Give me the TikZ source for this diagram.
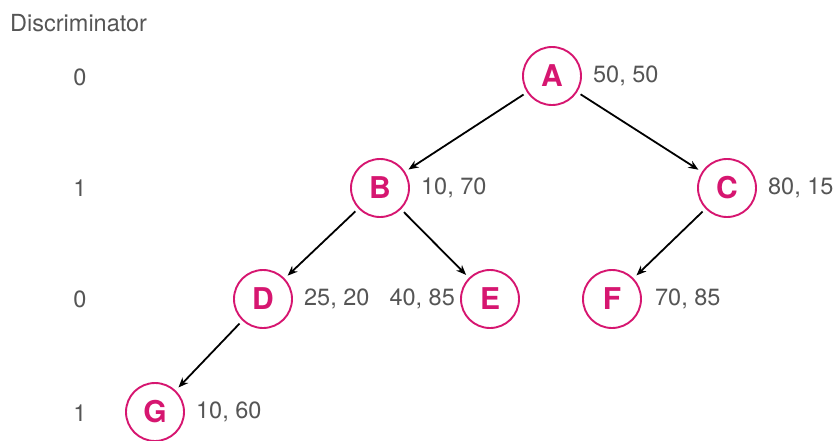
\documentclass[tikz,border=0pt]{standalone}
\usepackage{fontspec}
\setmainfont{TeX Gyre Heros}
\usetikzlibrary{arrows.meta}
\definecolor{keypink}{RGB}{214,22,112}
\definecolor{labelgray}{RGB}{85,85,85}
\tikzset{key/.style={circle, draw=keypink, line width=1.9pt, minimum size=58pt,
    inner sep=0pt, text=keypink, font=\fontsize{30}{30}\selectfont\bfseries},
  point/.style={text=labelgray, inner sep=0pt, font=\fontsize{23.5}{24}\selectfont},
  edge/.style={->, line width=1.8pt, shorten <=4pt, shorten >=4pt}}

\begin{document}
\begin{tikzpicture}[x=1pt, y=-1pt, >={Stealth[length=10pt,width=8pt]}, label distance=11pt]
    \useasboundingbox (0,0) rectangle (834,440);
    % discriminator per level
    \node[point, anchor=base west] (disc) at (10,31) {Discriminator};
    \node[point] (lvl-0) at (80,77) {0};
    \node[point] (lvl-1) at (80,188) {1};
    \node[point] (lvl-2) at (80,299) {0};
    \node[point] (lvl-3) at (80,413) {1};

    % the tree
    \node[key, label={[point]right:{50, 50}}] (a) at (552,76) {A};
    \node[key, label={[point]right:{10, 70}}] (b) at (380,188) {B};
    \node[key, label={[point]right:{80, 15}}] (c) at (727,188) {C};
    \node[key, label={[point]right:{25, 20}}] (d) at (263,299) {D};
    \node[key, label={[point, label distance=5pt]left:{40, 85}}] (e) at (490,299) {E};
    \node[key, label={[point, label distance=13pt]right:{70, 85}}] (f) at (612,299) {F};
    \node[key, label={[point]right:{10, 60}}] (g) at (155,412) {G};

    \draw[edge] (a) -- (b);
    \draw[edge] (a) -- (c);
    \draw[edge] (b) -- (d);
    \draw[edge] (b) -- (e);
    \draw[edge] (c) -- (f);
    \draw[edge] (d) -- (g);
\end{tikzpicture}
\end{document}
